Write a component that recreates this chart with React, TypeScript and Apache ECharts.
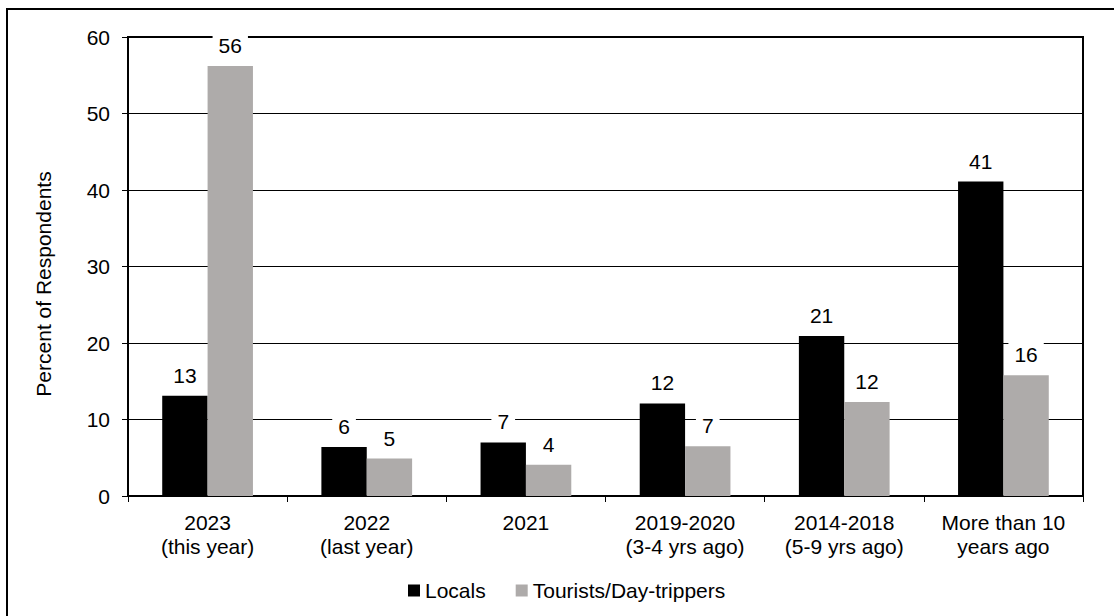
import React, { useEffect, useRef } from "react";
import * as echarts from "echarts";

const categories = [
  "2023\n(this year)",
  "2022\n(last year)",
  "2021",
  "2019-2020\n(3-4 yrs ago)",
  "2014-2018\n(5-9 yrs ago)",
  "More than 10\nyears ago",
];
const locals = [13.1, 6.4, 7.0, 12.1, 20.9, 41.1];
const tourists = [56.2, 4.9, 4.1, 6.5, 12.3, 15.8];
const seriesNames = ["Locals", "Tourists/Day-trippers"];
const yAxisTitle = "Percent of Respondents";

const FONT = "'Liberation Sans', Arial, sans-serif";
const FS = 21;

export default function App() {
  const ref = useRef<HTMLDivElement>(null);
  useEffect(() => {
    document.body.style.margin = "0";
    const chart = echarts.init(ref.current!, null, { renderer: "svg" });
    const label = {
      show: true,
      position: "top" as const,
      distance: 8,
      fontFamily: FONT,
      fontSize: FS,
      color: "#000",
      backgroundColor: "#fff",
      padding: [2, 6],
      formatter: (p: any) => String(Math.round(p.value)),
    };
    chart.setOption({
      animation: false,
      backgroundColor: "#fff",
      textStyle: { fontFamily: FONT },
      grid: {
        left: 128,
        right: 31,
        top: 37,
        bottom: 120,
        show: true,
        borderColor: "#000",
        borderWidth: 2,
        containLabel: false,
      },
      legend: {
        left: 403,
        top: 575,
        itemWidth: 12,
        itemHeight: 12,
        itemGap: 30,
        icon: "rect",
        textStyle: { fontFamily: FONT, fontSize: FS, color: "#000" },
        data: seriesNames,
      },
      xAxis: {
        type: "category",
        data: categories,
        axisLine: { lineStyle: { color: "#000", width: 2 } },
        axisTick: { show: true, length: 6, interval: 0, lineStyle: { color: "#000", width: 1 } },
        axisLabel: {
          interval: 0,
          margin: 14,
          fontFamily: FONT,
          fontSize: FS,
          lineHeight: 24,
          color: "#000",
        },
        splitLine: { show: false },
      },
      yAxis: {
        type: "value",
        min: 0,
        max: 60,
        interval: 10,
        axisLine: { show: true, lineStyle: { color: "#000", width: 2 } },
        axisTick: { show: true, length: 6, lineStyle: { color: "#000", width: 1 } },
        axisLabel: { margin: 18, fontFamily: FONT, fontSize: FS, color: "#000" },
        splitLine: { show: true, lineStyle: { color: "#000", width: 1 } },
      },
      graphic: [
        {
          type: "rect",
          shape: { x: 7, y: 9, width: 1120, height: 620 },
          style: { fill: "none", stroke: "#000", lineWidth: 2 },
          silent: true,
        },
        {
          type: "text",
          x: 43,
          y: 284,
          rotation: Math.PI / 2,
          style: {
            text: yAxisTitle,
            fontFamily: FONT,
            fontSize: FS,
            fill: "#000",
            align: "center",
            verticalAlign: "middle",
          },
        },
      ],
      series: [
        {
          name: seriesNames[0],
          type: "bar",
          data: locals,
          barGap: "0%",
          barCategoryGap: "43%",
          itemStyle: { color: "#000000" },
          label,
        },
        {
          name: seriesNames[1],
          type: "bar",
          data: tourists,
          barGap: "0%",
          barCategoryGap: "43%",
          itemStyle: { color: "#AEABAA" },
          label,
        },
      ],
    });
    return () => chart.dispose();
  }, []);
  return (
    <div
      ref={ref}
      style={{ width: 1114, height: 616, position: "absolute", left: 0, top: 0 }}
    />
  );
}
